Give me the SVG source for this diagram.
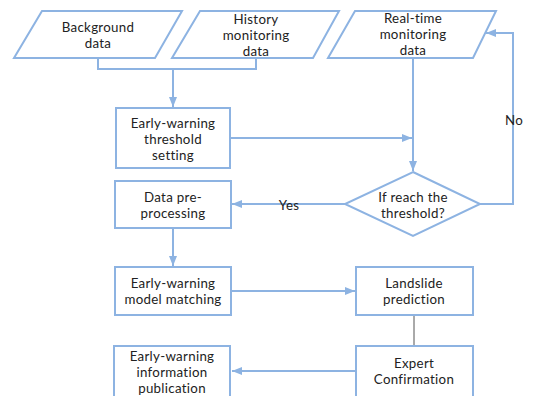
<svg xmlns="http://www.w3.org/2000/svg" width="534" height="396" viewBox="0 0 534 396">
<style>
.s{fill:#fff;stroke:#8db3e2;stroke-width:2}
.c{fill:none;stroke:#8db3e2;stroke-width:2}
.t{font-family:Lato,"Liberation Sans",sans-serif;font-size:13.3px;fill:#222;text-anchor:middle;letter-spacing:0.3px}
</style>
<defs>
<marker id="a" markerWidth="10" markerHeight="8" refX="10" refY="4" orient="auto" markerUnits="userSpaceOnUse">
<path d="M0,0 L10,4 L0,8 Z" fill="#8db3e2"/>
</marker>
</defs>
<rect width="534" height="396" fill="#fff"/>
<g id="connectors">
<path class="c" d="M98,58 V69 H256 V58"/>
<path class="c" d="M173,69 V107" marker-end="url(#a)"/>
<path class="c" d="M413,58 V171" marker-end="url(#a)"/>
<path class="c" d="M230,138 H412" marker-end="url(#a)"/>
<path class="c" d="M480,204 H513 V33 H486" marker-end="url(#a)"/>
<path class="c" d="M345,204 H232" marker-end="url(#a)"/>
<path class="c" d="M173,228 V266" marker-end="url(#a)"/>
<path class="c" d="M231,291 H355" marker-end="url(#a)"/>
<path d="M414,315 V346" stroke="#555" stroke-width="1" fill="none"/>
<path class="c" d="M356,371 H232" marker-end="url(#a)"/>
<text class="t" x="289" y="210">Yes</text>
<text class="t" x="505" y="125" style="text-anchor:start">No</text>
</g>
<g id="background">
<polygon class="s" points="42,11 182,11 155,58 14,58"/>
<text class="t" x="98" y="32">Background</text>
<text class="t" x="98" y="48">data</text>
</g>
<g id="history">
<polygon class="s" points="200,11 339,11 313,58 172,58"/>
<text class="t" x="256" y="24">History</text>
<text class="t" x="256" y="40">monitoring</text>
<text class="t" x="256" y="56">data</text>
</g>
<g id="realtime">
<polygon class="s" points="355,11 496,11 473,58 328,58"/>
<text class="t" x="413" y="23">Real-time</text>
<text class="t" x="413" y="39">monitoring</text>
<text class="t" x="413" y="55">data</text>
</g>
<g id="threshold">
<rect class="s" x="116" y="108" width="114" height="60"/>
<text class="t" x="173" y="127.5">Early-warning</text>
<text class="t" x="173" y="143.5">threshold</text>
<text class="t" x="173" y="159.5">setting</text>
</g>
<g id="decision">
<polygon class="s" points="413,172 480,204 413,236 345,204"/>
<text class="t" x="413" y="201.5">If reach the</text>
<text class="t" x="413" y="217.5">threshold?</text>
</g>
<g id="preprocessing">
<rect class="s" x="115" y="181" width="116" height="47"/>
<text class="t" x="173" y="202">Data pre-</text>
<text class="t" x="173" y="218">processing</text>
</g>
<g id="matching">
<rect class="s" x="115" y="267" width="116" height="48"/>
<text class="t" x="173" y="288">Early-warning</text>
<text class="t" x="173" y="304">model matching</text>
</g>
<g id="prediction">
<rect class="s" x="356" y="267" width="117" height="48"/>
<text class="t" x="414" y="288">Landslide</text>
<text class="t" x="414" y="304">prediction</text>
</g>
<g id="expert">
<rect class="s" x="356" y="346" width="117" height="60"/>
<text class="t" x="414" y="367.5">Expert</text>
<text class="t" x="414" y="383.5">Confirmation</text>
</g>
<g id="publication">
<rect class="s" x="114" y="346" width="116" height="60"/>
<text class="t" x="172" y="360.5">Early-warning</text>
<text class="t" x="172" y="376.5">information</text>
<text class="t" x="172" y="392.5">publication</text>
</g>
</svg>
